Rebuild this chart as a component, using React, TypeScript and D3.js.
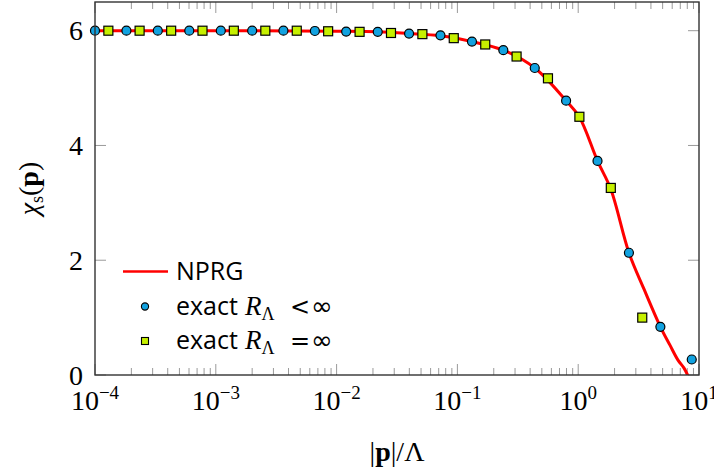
import React from "react";
import * as d3 from "d3";

// NPRG curve
const nprgX = [1e-4, 1e-3, 1e-2, 2.19e-2, 3.98e-2, 7.24e-2, 0.132, 0.24, 0.437, 0.794, 1.02, 1.445, 1.86, 2.63, 3.5, 4.79, 5.75, 6.7, 7.52, 8.04, 8.6];
const nprgY = [6.0, 6.0, 5.99, 5.98, 5.95, 5.91, 5.81, 5.66, 5.35, 4.78, 4.5, 3.73, 3.24, 2.13, 1.5, 0.84, 0.52, 0.26, 0.12, 0.0, -0.15];

// exact R_Λ < ∞ (circles)
const finiteX = [1e-4, 1.82e-4, 3.31e-4, 6.03e-4, 1.1e-3, 2.0e-3, 3.63e-3, 6.61e-3, 1.2e-2, 2.19e-2, 3.98e-2, 7.24e-2, 0.132, 0.24, 0.437, 0.794, 1.445, 2.63, 4.79, 8.71];
const finiteY = [6.0, 6.0, 6.0, 6.0, 6.0, 6.0, 6.0, 5.995, 5.985, 5.98, 5.95, 5.92, 5.81, 5.66, 5.35, 4.78, 3.73, 2.13, 0.84, 0.27];

// exact R_Λ = ∞ (squares)
const infX = [1.29e-4, 2.34e-4, 4.27e-4, 7.76e-4, 1.41e-3, 2.57e-3, 4.68e-3, 8.51e-3, 1.55e-2, 2.82e-2, 5.13e-2, 9.33e-2, 0.17, 0.309, 0.562, 1.023, 1.862, 3.39];
const infY = [6.0, 6.0, 6.0, 6.0, 6.0, 6.0, 6.0, 5.99, 5.98, 5.96, 5.94, 5.87, 5.76, 5.55, 5.17, 4.5, 3.26, 1.0];

const xMajor = [-4, -3, -2, -1, 0, 1];
const yTicks = [0, 2, 4, 6];

const W = 714, H = 473;
const L = 95, R = 699, T = 2, B = 375;

export default function App() {
  const x = d3.scaleLog().domain([1e-4, 10]).range([L, R]);
  const y = d3.scaleLinear().domain([0, 6.5]).range([B, T]);

  const minor: number[] = [];
  for (let e = -4; e < 1; e++) for (let m = 2; m <= 9; m++) minor.push(m * Math.pow(10, e));

  const line = d3
    .line<[number, number]>()
    .x((d) => x(d[0]))
    .y((d) => y(d[1]))
    .curve(d3.curveCatmullRom.alpha(0.5));
  const nprgPath = line(nprgX.map((v, i) => [v, nprgY[i]] as [number, number])) || "";

  const tickCol = "#9a9a9a";
  const serif = "'Liberation Serif', serif";
  const sans = "'Open Sans', Lato, sans-serif";
  const mathSym = "'DejaVu Sans', sans-serif";
  const blue = "#12a2e0";
  const lime = "#c6f000";

  return (
    <svg width={W} height={H} style={{ position: "absolute", left: 0, top: 0, background: "#fff" }}>
      <defs>
        <clipPath id="plotclip">
          <rect x={L} y={T} width={R - L} height={B - T} />
        </clipPath>
      </defs>
      <rect x={0} y={0} width={W} height={H} fill="#fff" />
      {/* ticks */}
      <g stroke={tickCol} strokeWidth={1}>
        {minor.map((v, i) => (
          <g key={"mi" + i}>
            <line x1={x(v)} x2={x(v)} y1={B} y2={B - 7} />
            <line x1={x(v)} x2={x(v)} y1={T} y2={T + 7} />
          </g>
        ))}
        {xMajor.map((e) => (
          <g key={"ma" + e}>
            <line x1={x(Math.pow(10, e))} x2={x(Math.pow(10, e))} y1={B} y2={B - 11} />
            <line x1={x(Math.pow(10, e))} x2={x(Math.pow(10, e))} y1={T} y2={T + 11} />
          </g>
        ))}
        {yTicks.map((v) => (
          <g key={"yt" + v}>
            <line x1={L} x2={L + 11} y1={y(v)} y2={y(v)} />
            <line x1={R} x2={R - 11} y1={y(v)} y2={y(v)} />
          </g>
        ))}
      </g>
      {/* curve */}
      <g clipPath="url(#plotclip)">
        <path d={nprgPath} fill="none" stroke="#ff0000" strokeWidth={3} />
      </g>
      {/* markers */}
      {finiteX.map((v, i) => (
        <circle key={"c" + i} cx={x(v)} cy={y(finiteY[i])} r={4.5} fill={blue} stroke="#000" strokeWidth={1.2} />
      ))}
      {infX.map((v, i) => (
        <rect key={"s" + i} x={x(v) - 4.5} y={y(infY[i]) - 4.5} width={9} height={9} fill={lime} stroke="#000" strokeWidth={1.2} />
      ))}
      {/* frame */}
      <rect x={L} y={T} width={R - L} height={B - T} fill="none" stroke="#333" strokeWidth={1.4} />
      {/* y tick labels */}
      {yTicks.map((v) => (
        <text key={"yl" + v} x={83} y={y(v) + 9.5} textAnchor="end" fontFamily={serif} fontSize={28} fill="#000">
          {v}
        </text>
      ))}
      {/* x tick labels */}
      {xMajor.map((e) => (
        <text key={"xl" + e} x={x(Math.pow(10, e))} y={410} textAnchor="middle" fontFamily={serif} fontSize={28} fill="#000">
          <tspan>10</tspan>
          <tspan dy={-11} fontSize={19}>{e < 0 ? "\u2212" + Math.abs(e) : String(e)}</tspan>
        </text>
      ))}
      {/* x axis label */}
      <text x={(L + R) / 2} y={461} textAnchor="middle" fontFamily={serif} fontSize={28} fill="#000">
        <tspan>|</tspan>
        <tspan fontWeight="bold">p</tspan>
        <tspan>|/Λ</tspan>
      </text>
      {/* y axis label */}
      <text transform={`translate(38,${(T + B) / 2}) rotate(-90)`} textAnchor="middle" fontFamily={serif} fontSize={28} fill="#000">
        <tspan fontStyle="italic">χ</tspan>
        <tspan fontSize={18} dy={5}>s</tspan>
        <tspan dy={-5}>(</tspan>
        <tspan fontWeight="bold">p</tspan>
        <tspan>)</tspan>
      </text>
      {/* legend */}
      <g>
        <line x1={123} x2={168} y1={271.5} y2={271.5} stroke="#ff0000" strokeWidth={2.6} />
        <text x={176} y={280} fontFamily={sans} fontSize={25} fill="#000">NPRG</text>
        <circle cx={145} cy={306.5} r={3.6} fill={blue} stroke="#000" strokeWidth={1.1} />
        <text y={315} fontFamily={sans} fontSize={25} fill="#000">
          <tspan x={176}>exact</tspan>
          <tspan x={245} fontFamily={serif} fontStyle="italic" fontSize={27}>R</tspan>
          <tspan fontFamily={serif} fontSize={18} dy={5}>Λ</tspan>
          <tspan x={290} dy={-5} fontFamily={mathSym} fontSize={24}>{"<"}</tspan>
          <tspan x={311} fontFamily={mathSym} fontSize={26}>∞</tspan>
        </text>
        <rect x={141.5} y={337.5} width={7} height={7} fill={lime} stroke="#000" strokeWidth={1.1} />
        <text y={349} fontFamily={sans} fontSize={25} fill="#000">
          <tspan x={176}>exact</tspan>
          <tspan x={245} fontFamily={serif} fontStyle="italic" fontSize={27}>R</tspan>
          <tspan fontFamily={serif} fontSize={18} dy={5}>Λ</tspan>
          <tspan x={290} dy={-5} fontFamily={mathSym} fontSize={24}>=</tspan>
          <tspan x={311} fontFamily={mathSym} fontSize={26}>∞</tspan>
        </text>
      </g>
    </svg>
  );
}
